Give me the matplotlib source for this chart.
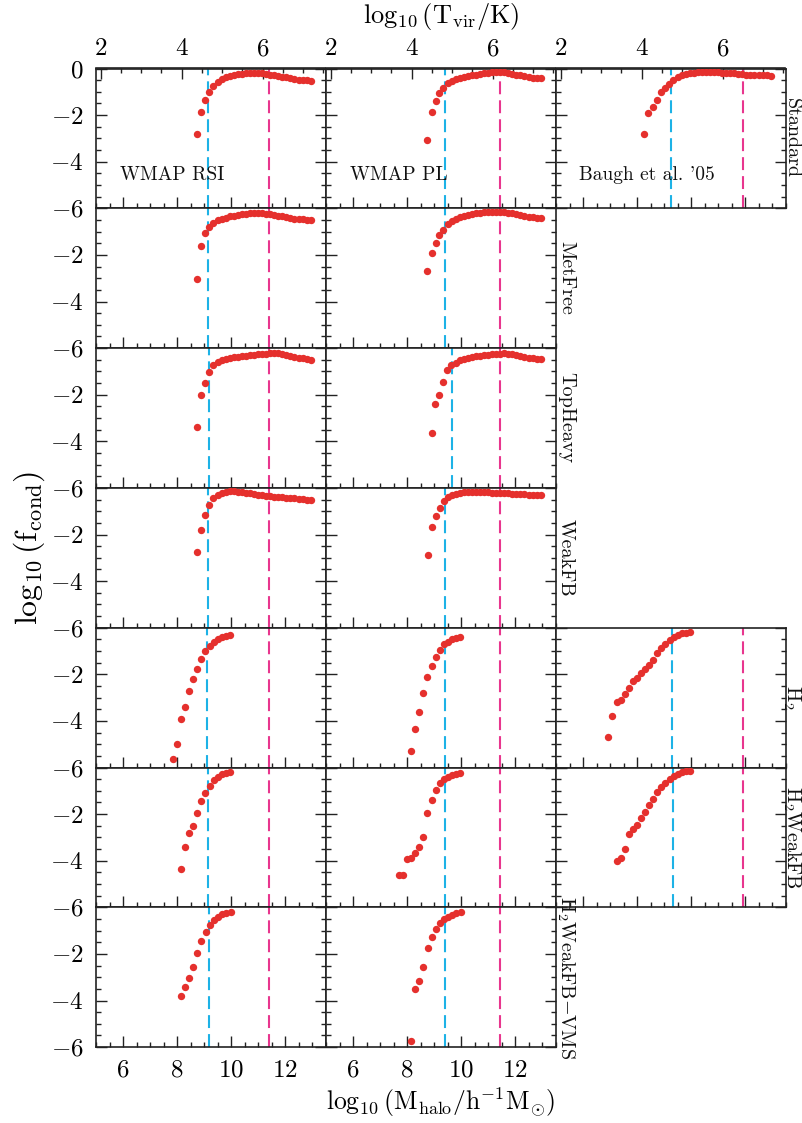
import matplotlib
matplotlib.use("Agg")
import matplotlib.pyplot as plt
from matplotlib.ticker import MultipleLocator

plt.rcParams["mathtext.fontset"] = "cm"
plt.rcParams["font.family"] = "serif"
plt.rcParams["font.serif"] = ["cmr10", "DejaVu Serif"]
plt.rcParams["axes.unicode_minus"] = False

# ---------------- data: log10(M_halo) and log10(f_cond) per model ----------------
# Standard
m_std_rsi = [8.73, 8.89, 9.05, 9.20, 9.35, 9.50, 9.65, 9.80, 9.95, 10.10, 10.25, 10.40, 10.55, 10.70, 10.85,
             11.00, 11.15, 11.30, 11.45, 11.60, 11.75, 11.90, 12.05, 12.20, 12.35, 12.50, 12.65, 12.80, 12.95]
f_std_rsi = [-2.82, -1.85, -1.35, -1.00, -0.74, -0.58, -0.46, -0.38, -0.32, -0.28, -0.25, -0.23, -0.21, -0.20, -0.20,
             -0.20, -0.21, -0.23, -0.26, -0.29, -0.32, -0.35, -0.38, -0.42, -0.45, -0.48, -0.50, -0.51, -0.52]
m_std_pl = [8.75, 8.91, 9.06, 9.20, 9.34, 9.50, 9.65, 9.80, 9.95, 10.10, 10.25, 10.40, 10.55, 10.70, 10.85,
            11.00, 11.15, 11.30, 11.45, 11.60, 11.75, 11.90, 12.05, 12.20, 12.35, 12.50, 12.65, 12.80, 12.95]
f_std_pl = [-3.07, -1.87, -1.39, -1.07, -0.82, -0.64, -0.53, -0.47, -0.42, -0.37, -0.33, -0.30, -0.27, -0.24, -0.21,
            -0.19, -0.17, -0.16, -0.16, -0.17, -0.20, -0.23, -0.26, -0.30, -0.34, -0.37, -0.40, -0.41, -0.41]
m_std_b05 = [8.27, 8.42, 8.58, 8.73, 8.89, 9.04, 9.19, 9.35, 9.50, 9.65, 9.80, 9.95, 10.10, 10.25, 10.40, 10.55,
             10.70, 10.85, 11.00, 11.15, 11.30, 11.45, 11.60, 11.75, 11.90, 12.05, 12.20, 12.35, 12.50, 12.65,
             12.80, 12.95]
f_std_b05 = [-2.81, -1.90, -1.64, -1.35, -1.02, -0.82, -0.65, -0.49, -0.38, -0.29, -0.24, -0.21, -0.18, -0.16, -0.15,
             -0.15, -0.15, -0.16, -0.17, -0.18, -0.19, -0.20, -0.21, -0.23, -0.25, -0.26, -0.27, -0.28, -0.29, -0.30,
             -0.30, -0.31]

# MetFree
m_mf_rsi = [8.73, 8.89, 9.05, 9.20, 9.35, 9.50, 9.65, 9.80, 9.95, 10.10, 10.25, 10.40, 10.55, 10.70, 10.85,
            11.00, 11.15, 11.30, 11.45, 11.60, 11.75, 11.90, 12.05, 12.20, 12.35, 12.50, 12.65, 12.80, 12.95]
f_mf_rsi = [-3.05, -1.60, -1.06, -0.79, -0.62, -0.52, -0.45, -0.40, -0.35, -0.31, -0.28, -0.26, -0.24, -0.22, -0.21,
            -0.21, -0.22, -0.24, -0.26, -0.29, -0.32, -0.35, -0.38, -0.41, -0.44, -0.46, -0.48, -0.50, -0.51]
m_mf_pl = [8.75, 8.91, 9.06, 9.20, 9.34, 9.50, 9.65, 9.80, 9.95, 10.10, 10.25, 10.40, 10.55, 10.70, 10.85,
           11.00, 11.15, 11.30, 11.45, 11.60, 11.75, 11.90, 12.05, 12.20, 12.35, 12.50, 12.65, 12.80, 12.95]
f_mf_pl = [-2.68, -1.90, -1.50, -1.16, -0.93, -0.68, -0.53, -0.44, -0.37, -0.32, -0.28, -0.24, -0.21, -0.19, -0.17,
           -0.16, -0.15, -0.15, -0.15, -0.17, -0.19, -0.21, -0.25, -0.29, -0.33, -0.37, -0.39, -0.40, -0.40]

# TopHeavy
m_th_rsi = [8.74, 8.89, 9.04, 9.20, 9.33, 9.50, 9.65, 9.80, 9.95, 10.10, 10.25, 10.40, 10.55, 10.70, 10.85,
            11.00, 11.15, 11.30, 11.45, 11.60, 11.75, 11.90, 12.05, 12.20, 12.35, 12.50, 12.65, 12.80, 12.95]
f_th_rsi = [-3.39, -2.02, -1.50, -1.03, -0.73, -0.60, -0.52, -0.47, -0.43, -0.40, -0.37, -0.35, -0.33, -0.31, -0.29,
            -0.27, -0.26, -0.24, -0.22, -0.21, -0.22, -0.25, -0.29, -0.33, -0.37, -0.41, -0.44, -0.47, -0.50]
m_th_pl = [8.93, 9.04, 9.19, 9.33, 9.48, 9.63, 9.80, 9.95, 10.10, 10.25, 10.40, 10.55, 10.70, 10.85,
           11.00, 11.15, 11.30, 11.45, 11.60, 11.75, 11.90, 12.05, 12.20, 12.35, 12.50, 12.65, 12.80, 12.95]
f_th_pl = [-3.64, -2.40, -2.00, -1.45, -0.94, -0.73, -0.62, -0.53, -0.47, -0.43, -0.39, -0.36, -0.34, -0.31,
           -0.29, -0.27, -0.25, -0.24, -0.23, -0.24, -0.27, -0.31, -0.35, -0.38, -0.41, -0.44, -0.46, -0.47]

# WeakFB
m_wf_rsi = [8.74, 8.89, 9.04, 9.20, 9.35, 9.50, 9.65, 9.80, 9.95, 10.10, 10.25, 10.40, 10.55, 10.70, 10.85,
            11.00, 11.15, 11.30, 11.45, 11.60, 11.75, 11.90, 12.05, 12.20, 12.35, 12.50, 12.65, 12.80, 12.95]
f_wf_rsi = [-2.75, -1.80, -1.16, -0.73, -0.45, -0.30, -0.22, -0.17, -0.15, -0.15, -0.16, -0.18, -0.21, -0.24, -0.27,
            -0.30, -0.32, -0.34, -0.36, -0.37, -0.39, -0.40, -0.42, -0.44, -0.45, -0.47, -0.48, -0.50, -0.52]
m_wf_pl = [8.78, 8.93, 9.07, 9.22, 9.37, 9.50, 9.65, 9.80, 9.95, 10.10, 10.25, 10.40, 10.55, 10.70, 10.85,
           11.00, 11.15, 11.30, 11.45, 11.60, 11.75, 11.90, 12.05, 12.20, 12.35, 12.50, 12.65, 12.80, 12.95]
f_wf_pl = [-2.88, -1.68, -1.21, -0.86, -0.56, -0.40, -0.32, -0.26, -0.22, -0.19, -0.17, -0.16, -0.16, -0.17, -0.18,
           -0.19, -0.20, -0.21, -0.22, -0.23, -0.24, -0.25, -0.26, -0.27, -0.28, -0.29, -0.30, -0.30, -0.30]

# H2
m_h2_rsi = [7.84, 8.00, 8.15, 8.31, 8.46, 8.60, 8.75, 8.90, 9.05, 9.21, 9.36, 9.51, 9.66, 9.80, 9.96]
f_h2_rsi = [-5.62, -4.99, -3.92, -3.39, -2.72, -2.20, -1.76, -1.36, -1.01, -0.79, -0.61, -0.50, -0.41, -0.36, -0.33]
m_h2_pl = [8.15, 8.31, 8.46, 8.60, 8.75, 8.91, 9.06, 9.21, 9.36, 9.51, 9.66, 9.81, 9.96]
f_h2_pl = [-5.29, -4.33, -3.62, -2.82, -2.10, -1.63, -1.27, -0.96, -0.71, -0.60, -0.50, -0.43, -0.39]
m_h2_b05 = [6.94, 7.09, 7.25, 7.40, 7.56, 7.71, 7.87, 8.00, 8.15, 8.31, 8.46, 8.60, 8.75, 8.90, 9.05, 9.21,
            9.36, 9.51, 9.66, 9.80, 9.95]
f_h2_b05 = [-4.70, -3.79, -3.17, -3.10, -2.83, -2.60, -2.29, -2.15, -1.96, -1.79, -1.60, -1.39, -1.10, -0.88,
            -0.70, -0.53, -0.41, -0.31, -0.24, -0.21, -0.18]

# H2WeakFB
m_h2w_rsi = [8.15, 8.31, 8.46, 8.60, 8.75, 8.90, 9.05, 9.21, 9.36, 9.51, 9.66, 9.80, 9.96]
f_h2w_rsi = [-4.36, -3.40, -2.80, -2.51, -1.97, -1.45, -1.08, -0.78, -0.55, -0.39, -0.29, -0.22, -0.18]
m_h2w_pl = [7.69, 7.84, 8.00, 8.15, 8.31, 8.46, 8.60, 8.75, 8.91, 9.06, 9.21, 9.36, 9.51, 9.66, 9.81, 9.96]
f_h2w_pl = [-4.61, -4.61, -3.93, -3.87, -3.68, -3.40, -2.97, -1.97, -1.39, -0.98, -0.68, -0.49, -0.39, -0.32,
            -0.28, -0.25]
m_h2w_b05 = [7.25, 7.40, 7.56, 7.71, 7.87, 8.00, 8.15, 8.31, 8.46, 8.60, 8.75, 8.90, 9.05, 9.21, 9.36, 9.51,
             9.66, 9.80, 9.95]
f_h2w_b05 = [-4.01, -3.90, -3.50, -2.87, -2.65, -2.47, -2.15, -1.92, -1.61, -1.37, -1.04, -0.82, -0.65, -0.49,
             -0.36, -0.27, -0.19, -0.16, -0.14]

# H2WeakFB-VMS
m_vms_rsi = [8.13, 8.30, 8.45, 8.60, 8.75, 8.90, 9.06, 9.21, 9.36, 9.51, 9.67, 9.82, 10.00]
f_vms_rsi = [-3.81, -3.43, -3.02, -2.55, -1.98, -1.46, -1.07, -0.76, -0.55, -0.40, -0.30, -0.23, -0.19]
m_vms_pl = [8.14, 8.31, 8.46, 8.61, 8.76, 8.91, 9.07, 9.22, 9.37, 9.52, 9.67, 9.83, 10.01]
f_vms_pl = [-5.72, -3.52, -3.16, -2.58, -1.73, -1.26, -0.93, -0.69, -0.52, -0.40, -0.32, -0.26, -0.21]

# characteristic masses (vertical dashed lines) per row, per column
cyan_mass = [[9.14, 9.41, 9.26], [9.16, 9.40], [9.20, 9.67], [9.16, 9.41],
             [9.10, 9.41, 9.30], [9.16, 9.41, 9.33], [9.20, 9.41]]
magenta_mass = [11.41, 11.43, 11.94]

column_titles = ["WMAP RSI", "WMAP PL", "Baugh et al. '05"]
row_labels = ["Standard", "MetFree", "TopHeavy", "WeakFB",
              r"$\mathrm{H_2}$", r"$\mathrm{H_2WeakFB}$", r"$\mathrm{H_2WeakFB{-}VMS}$"]

series = [
    [(m_std_rsi, f_std_rsi), (m_std_pl, f_std_pl), (m_std_b05, f_std_b05)],
    [(m_mf_rsi, f_mf_rsi), (m_mf_pl, f_mf_pl)],
    [(m_th_rsi, f_th_rsi), (m_th_pl, f_th_pl)],
    [(m_wf_rsi, f_wf_rsi), (m_wf_pl, f_wf_pl)],
    [(m_h2_rsi, f_h2_rsi), (m_h2_pl, f_h2_pl), (m_h2_b05, f_h2_b05)],
    [(m_h2w_rsi, f_h2w_rsi), (m_h2w_pl, f_h2w_pl), (m_h2w_b05, f_h2w_b05)],
    [(m_vms_rsi, f_vms_rsi), (m_vms_pl, f_vms_pl)],
]

# ---------------- figure layout (pixels) ----------------
W, H = 802, 1123
fig = plt.figure(figsize=(W / 100, H / 100), dpi=100)

col_left = [96, 326, 556]
panel_w = 229.5
row_top = 68.5
row_h = 139.8
XMIN, XMAX = 5.0, 13.5
title_left_px = [120, 350, 579]
label_gap_px = [5.5, 5.5, 1.5]   # baseline offset of the model names from the frame

RED = "#e5302d"
CYAN = "#1db2e6"
MAGENTA = "#e8368e"
AXC = "#222222"
TICK_FS = 18


def m2t(m):
    return 2.0 / 3.0 * m - 1.45


def t2m(t):
    return (t + 1.45) * 1.5


def style_ticks(axis_obj, which_axis):
    axis_obj.tick_params(axis=which_axis, which="major", direction="in", length=8.2, width=1.0,
                         color=AXC, labelsize=TICK_FS)
    axis_obj.tick_params(axis=which_axis, which="minor", direction="in", length=3.8, width=1.0,
                         color=AXC)


n_rows = len(series)
for r, row in enumerate(series):
    for c, (m, f) in enumerate(row):
        left = col_left[c] / W
        bottom = 1 - (row_top + (r + 1) * row_h) / H
        ax = fig.add_axes([left, bottom, panel_w / W, row_h / H])
        ax.set_xlim(XMIN, XMAX)
        ax.set_ylim(-6, 0)
        for sp in ax.spines.values():
            sp.set_color(AXC)
            sp.set_linewidth(1.2)

        ax.axvline(cyan_mass[r][c], color=CYAN, lw=1.5, dashes=(6.2, 2.9))
        ax.axvline(magenta_mass[c], color=MAGENTA, lw=1.5, dashes=(6.2, 2.9))
        ax.plot(m, f, "o", ms=5.3, color=RED, mec="none", zorder=3)

        # x axis (halo mass)
        ax.xaxis.set_major_locator(MultipleLocator(2))
        ax.xaxis.set_minor_locator(MultipleLocator(0.5))
        ax.tick_params(axis="x", which="both", top=False, bottom=True, pad=9)
        style_ticks(ax, "x")
        if r == n_rows - 1:
            ax.set_xticks([6, 8, 10, 12], labels=["$6$", "$8$", "$10$", "$12$"])
        else:
            ax.tick_params(axis="x", labelbottom=False)

        # y axis (condensed fraction)
        ax.yaxis.set_minor_locator(MultipleLocator(0.5))
        ax.tick_params(axis="y", which="both", left=True, right=True, pad=9)
        style_ticks(ax, "y")
        if r == 0:
            ylabels = ["$-6$", "$-4$", "$-2$", "$0$"]
        else:
            ylabels = ["$-6$", "$-4$", "$-2$", ""]
        ax.set_yticks([-6, -4, -2, 0], labels=ylabels)
        if c != 0:
            ax.tick_params(axis="y", labelleft=False)

        # top axis: virial temperature on first row
        if r == 0:
            sec = ax.secondary_xaxis("top", functions=(m2t, t2m))
            sec.set_xticks([2, 4, 6], labels=["$2$", "$4$", "$6$"])
            sec.xaxis.set_minor_locator(MultipleLocator(0.5))
            sec.tick_params(axis="x", which="major", direction="in", length=8.2, width=1.0,
                            color=AXC, labelsize=TICK_FS, pad=6)
            sec.tick_params(axis="x", which="minor", direction="in", length=3.8, width=1.0, color=AXC)
            sec.spines["top"].set_color(AXC)
            sec.spines["top"].set_linewidth(1.2)
            fig.text(title_left_px[c] / W, 1 - 175 / H, column_titles[c], fontsize=14,
                     ha="left", va="center", color="#111111")

# model labels on the right of the last panel of each row (baseline just right of the frame)
for r, row in enumerate(series):
    c_last = len(row) - 1
    x_px = col_left[c_last] + panel_w + label_gap_px[c_last]
    y_px = row_top + (r + 0.5) * row_h
    fig.text(x_px / W, 1 - y_px / H, row_labels[r], rotation=270, rotation_mode="anchor",
             fontsize=14.5, ha="center", va="baseline", color="#111111")

# axis titles
fig.text(441 / W, 1 - 17 / H, r"$\log_{10}(\mathrm{T_{vir}/K})$", fontsize=19,
         ha="center", va="center")
fig.text(441 / W, 1 - 1102 / H, r"$\log_{10}(\mathrm{M_{halo}/h^{-1}M_{\odot}})$", fontsize=18.5,
         ha="center", va="center")
fig.text(29 / W, 1 - 548 / H, r"$\log_{10}(\mathrm{f_{cond}})$", fontsize=23, rotation=90,
         ha="center", va="center")

fig.savefig("out.png", dpi=100)
